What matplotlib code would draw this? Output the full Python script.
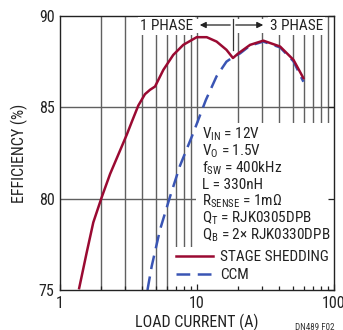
import numpy as np
import matplotlib
matplotlib.use("Agg")
import matplotlib.pyplot as plt
from matplotlib.patches import Rectangle

FONT = 'Roboto Condensed'
plt.rcParams['font.family'] = [FONT, 'DejaVu Sans']
plt.rcParams['mathtext.fontset'] = 'custom'
plt.rcParams['mathtext.rm'] = FONT
plt.rcParams['mathtext.it'] = FONT
plt.rcParams['mathtext.bf'] = FONT

# ---- data ----
ss_current = [1.38, 1.566, 1.75, 2.01, 2.32, 3.07, 3.36, 3.73, 4.17, 4.54, 4.94, 5.68, 6.71, 7.94,
              9.95, 11.78, 13.9, 16.4, 18.3, 20.0, 24.4, 30.5, 40.4, 50.6, 59.8]
ss_eff     = [75.1, 77.05, 78.7, 80.05, 81.35, 83.5, 84.25, 85.1, 85.72, 85.96, 86.14, 87.05, 87.87, 88.42,
              88.84, 88.84, 88.6, 88.15, 87.7, 87.95, 88.42, 88.65, 88.33, 87.6, 86.6]
ccm_current = [4.35, 4.67, 5.37, 6.35, 7.51, 9.4, 11.6, 13.9, 16.4, 18.3, 20.6, 24.4, 30.5, 40.4, 50.6, 59.8]
ccm_eff     = [75.0, 76.3, 78.3, 80.1, 81.8, 83.6, 85.4, 86.7, 87.5, 87.75, 87.95, 88.38, 88.6, 88.28, 87.52, 86.4]
x_major = [1, 10, 100]
x_minor = [2, 3, 4, 5, 6, 7, 8, 9, 20, 30, 40, 50, 60, 70, 80, 90]
y_ticks = [75, 80, 85, 90]
specs = [r'V$_{\mathrm{IN}}$ = 12V', r'V$_{\mathrm{O}}$ = 1.5V', r'f$_{\mathrm{SW}}$ = 400kHz',
         'L = 330nH', r'R$_{\mathrm{SENSE}}$ = 1m$\Omega$', r'Q$_{\mathrm{T}}$ = RJK0305DPB',
         r'Q$_{\mathrm{B}}$ = 2$\times$ RJK0330DPB']
series_names = ['STAGE SHEDDING', 'CCM']

RED = '#9a0a32'
BLUE = '#3a55b4'
GRID = '#606060'
INK = '#222222'

W, H = 343, 330
fig = plt.figure(figsize=(W / 100, H / 100), dpi=100)
L, R, T, B = 60, 334, 16, 290
ax = fig.add_axes([L / W, 1 - B / H, (R - L) / W, (B - T) / H])
ax.set_xscale('log')
ax.set_xlim(1, 100)
ax.set_ylim(75, 90)

# grid drawn manually
for xv in x_minor + x_major[1:-1]:
    ax.axvline(xv, color=GRID, lw=1.0, zorder=0.8)
for yv in y_ticks[1:-1]:
    ax.axhline(yv, color=GRID, lw=1.0, zorder=0.8)

def fx(px):
    return (px - L) / (R - L)

def fy(py):
    return (B - py) / (B - T)

# white areas behind text box and legend
ax.add_patch(Rectangle((fx(196), 0), 1 - fx(196), fy(123), transform=ax.transAxes,
                       facecolor='white', edgecolor='none', zorder=1))
ax.add_patch(Rectangle((fx(174), 0), 1 - fx(174), fy(247), transform=ax.transAxes,
                       facecolor='white', edgecolor='none', zorder=1))

ax.plot(ccm_current, ccm_eff, color=BLUE, lw=1.8, dashes=(5.5, 3), zorder=3, label=series_names[1],
        solid_joinstyle='round')
ax.plot(ss_current, ss_eff, color=RED, lw=1.8, zorder=4, label=series_names[0], solid_joinstyle='round')

ax.set_xticks(x_major)
ax.set_xticklabels([str(v) for v in x_major])
ax.set_xticks(x_minor, minor=True)
ax.set_yticks(y_ticks)
ax.set_yticklabels([str(v) for v in y_ticks])
ax.tick_params(which='both', direction='in', top=False, right=True, labelsize=11.5, colors=INK,
               width=0.9, pad=4)
ax.tick_params(which='major', length=4)
ax.tick_params(which='minor', length=3)
ax.tick_params(axis='y', which='both', left=False, length=4)
ax.set_axisbelow(False)
for s in ax.spines.values():
    s.set_color(INK)
    s.set_linewidth(1.0)
    s.set_zorder(5)

ax.set_xlabel('LOAD CURRENT (A)', fontsize=11.5, labelpad=2, color=INK)
ax.set_ylabel('EFFICIENCY (%)', fontsize=11.5, labelpad=8, color=INK)

# phase annotation
ax.text(fx(193), fy(26), '1 PHASE', transform=ax.transAxes, ha='right', va='center', fontsize=11,
        color=INK, zorder=6, bbox=dict(facecolor='white', edgecolor='none', pad=1.5))
ax.text(fx(270), fy(26), '3 PHASE', transform=ax.transAxes, ha='left', va='center', fontsize=11,
        color=INK, zorder=6, bbox=dict(facecolor='white', edgecolor='none', pad=1.5))
ax.add_patch(Rectangle((fx(196), fy(33)), fx(268) - fx(196), fy(19) - fy(33), transform=ax.transAxes,
                       facecolor='white', edgecolor='none', zorder=5.5))
ax.plot([fx(233), fx(233)], [fy(19), fy(50)], transform=ax.transAxes, color='#333333', lw=0.9, zorder=6)
ax.annotate('', xy=(fx(197), fy(25)), xytext=(fx(233), fy(25)), xycoords='axes fraction',
            arrowprops=dict(arrowstyle='-|>', color=INK, lw=0.9, mutation_scale=9), zorder=6)
ax.annotate('', xy=(fx(266), fy(25)), xytext=(fx(233), fy(25)), xycoords='axes fraction',
            arrowprops=dict(arrowstyle='-|>', color=INK, lw=0.9, mutation_scale=9), zorder=6)

# spec text
base = 139
for i, s in enumerate(specs):
    ax.text(fx(202), fy(base + i * 16.7), s, transform=ax.transAxes, ha='left', va='baseline',
            fontsize=11, color=INK, zorder=6)

h, l = ax.get_legend_handles_labels()
order = [l.index(series_names[0]), l.index(series_names[1])]
leg = ax.legend([h[i] for i in order], [l[i] for i in order], loc='upper left',
                bbox_to_anchor=(fx(176), fy(250)), frameon=False, fontsize=11,
                handlelength=2.4, handletextpad=0.5, labelspacing=0.28, borderpad=0, borderaxespad=0)
for t in leg.get_texts():
    t.set_color(INK)
leg.set_zorder(6)

fig.text(315 / W, 1 - 327 / H, 'DN489 F02', fontsize=6.5, ha='center', va='center', color='#333333')

fig.savefig('out.png', dpi=100)
